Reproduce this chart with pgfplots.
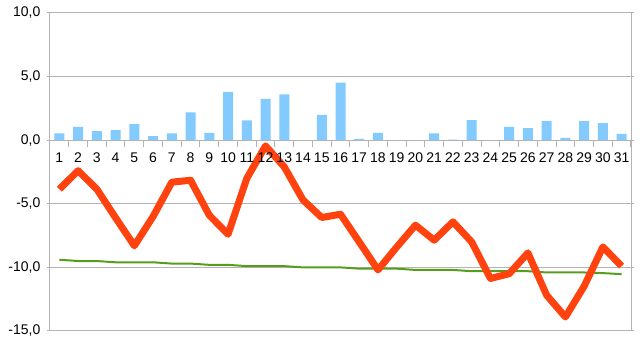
\documentclass[border=0pt]{standalone}
\usepackage{pgfplots}
\pgfplotsset{compat=1.18}
\usepackage{fontspec}
\setmainfont{Liberation Sans}
\definecolor{barblue}{HTML}{83CAFF}
\definecolor{lored}{HTML}{FF420E}
\definecolor{logreen}{HTML}{579D1C}
\definecolor{gridgray}{HTML}{B3B3B3}
\begin{document}
\fontsize{10.5pt}{12pt}\selectfont
\begin{tikzpicture}
\begin{axis}[
  scale only axis, width=435.75pt, height=238.5pt,
  xmin=0.5, xmax=31.5, ymin=-15, ymax=10,
  xtick=\empty,
  ytick={-15,-10,-5,0,5,10},
  ymajorgrids, grid style={gridgray, line width=0.75pt},
  axis line style={gridgray, line width=0.75pt},
  tick style={gridgray, line width=0.75pt},
  tick align=outside, major tick length=2.5pt,
  yticklabel style={font=\fontsize{10.5pt}{12pt}\selectfont, xshift=-1pt},
  /pgf/number format/.cd, fixed, fixed zerofill, precision=1, use comma, assume math mode=true,
]
\addplot[ybar, bar width=7.5pt, fill=barblue, draw=none] coordinates {
(1,0.53) (2,1.05) (3,0.71) (4,0.79) (5,1.26) (6,0.32) (7,0.53) (8,2.18) (9,0.58) (10,3.79)
(11,1.55) (12,3.24) (13,3.6) (14,0) (15,2.0) (16,4.53) (17,0.1) (18,0.58) (19,0) (20,0)
(21,0.53) (22,0.05) (23,1.58) (24,0) (25,1.05) (26,0.95) (27,1.5) (28,0.18) (29,1.5) (30,1.34) (31,0.5)};
\addplot[logreen, line width=1.5pt, mark=none] coordinates {
(1,-9.4) (2,-9.5) (3,-9.5) (4,-9.6) (5,-9.6) (6,-9.6) (7,-9.7) (8,-9.7) (9,-9.8) (10,-9.8)
(11,-9.9) (12,-9.9) (13,-9.9) (14,-10.0) (15,-10.0) (16,-10.0) (17,-10.1) (18,-10.1) (19,-10.1) (20,-10.2)
(21,-10.2) (22,-10.2) (23,-10.3) (24,-10.3) (25,-10.3) (26,-10.3) (27,-10.4) (28,-10.4) (29,-10.4) (30,-10.45) (31,-10.53)};
\addplot[lored, line width=5.25pt, line join=round, mark=none] coordinates {
(1,-3.85) (2,-2.4) (3,-3.85) (4,-6.1) (5,-8.3) (6,-6.0) (7,-3.3) (8,-3.15) (9,-5.9) (10,-7.4)
(11,-3.0) (12,-0.45) (13,-2.1) (14,-4.7) (15,-6.08) (16,-5.82) (17,-8.0) (18,-10.2) (19,-8.4) (20,-6.68)
(21,-7.86) (22,-6.42) (23,-8.0) (24,-10.87) (25,-10.5) (26,-8.86) (27,-12.19) (28,-13.9) (29,-11.48) (30,-8.39) (31,-9.9)};
\end{axis}
\begin{axis}[
  scale only axis, width=435.75pt, height=238.5pt,
  xmin=0.5, xmax=31.5, ymin=-15, ymax=10,
  axis x line=middle, axis y line=none,
  axis line style={gridgray, line width=0.75pt, -},
  xtick={0.5,1.5,...,31.5},
  x tick label as interval,
  xticklabels={1,2,3,4,5,6,7,8,9,10,11,12,13,14,15,16,17,18,19,20,21,22,23,24,25,26,27,28,29,30,31},
  major tick length=5pt,
  tick align=outside,
  tick style={gridgray, line width=0.75pt},
  xticklabel style={font=\fontsize{10.5pt}{12pt}\selectfont, yshift=-1pt},
  ytick=\empty,
]
\addplot[draw=none] coordinates {(1,0)};
\end{axis}
\pgfresetboundingbox
\path[use as bounding box] ([xshift=-37.5pt,yshift=-9.75pt]current axis.south west) rectangle ([xshift=6.75pt,yshift=9.75pt]current axis.north east);
\end{tikzpicture}
\end{document}
